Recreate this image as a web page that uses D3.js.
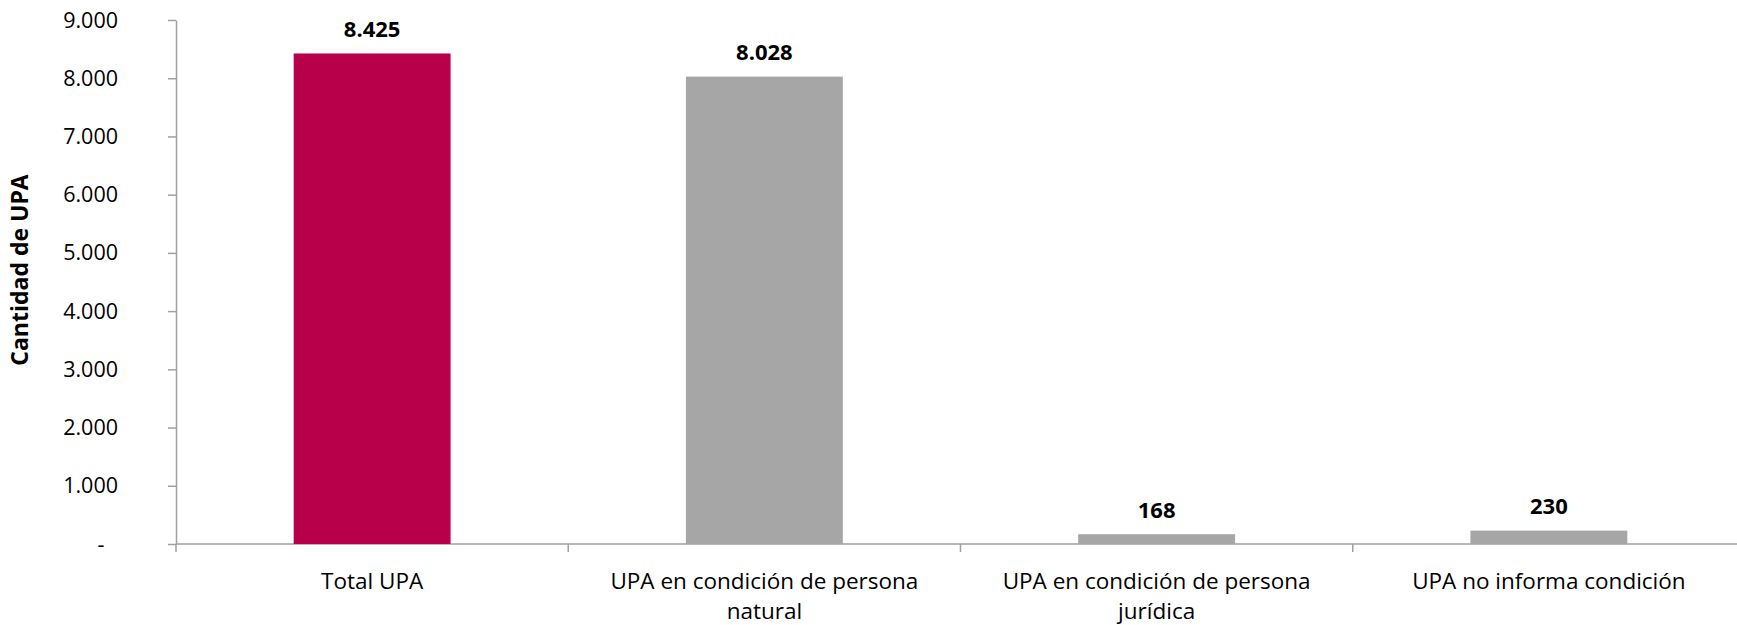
<!DOCTYPE html>
<html>
<head>
<meta charset="utf-8">
<script src="https://cdn.jsdelivr.net/npm/d3@7"></script>
<style>
  body { margin: 0; background: #fff; }
  svg { display: block; font-family: 'Open Sans', sans-serif; }
</style>
</head>
<body>
<div id="chart"></div>
<script>
const categories = [
  'Total UPA',
  'UPA en condición de persona natural',
  'UPA en condición de persona jurídica',
  'UPA no informa condición'
];
const labelLines = [
  ['Total UPA'],
  ['UPA en condición de persona', 'natural'],
  ['UPA en condición de persona', 'jurídica'],
  ['UPA no informa condición']
];
const values = [8425, 8028, 168, 230];
const yTicks = [0, 1000, 2000, 3000, 4000, 5000, 6000, 7000, 8000, 9000];

const width = 1737;
const height = 625;
const margin = { top: 20, right: -8, bottom: 81, left: 176 };

const data = categories.map((name, i) => ({ name, value: values[i], lines: labelLines[i] }));

const svg = d3.select('#chart').append('svg')
  .attr('width', width)
  .attr('height', height);

const xScale = d3.scaleBand()
  .domain(categories)
  .range([margin.left, width - margin.right])
  .paddingInner(0.6)
  .paddingOuter(0.3);

const yScale = d3.scaleLinear()
  .domain([0, 9000])
  .range([height - margin.bottom, margin.top]);

const fmt = d => d === 0 ? '-' : d3.format(',')(d).replace(/,/g, '.');
const axisColor = '#a0a0a0';

// y axis
const yAxis = d3.axisLeft(yScale)
  .tickValues(yTicks)
  .tickSize(8)
  .tickSizeOuter(0)
  .tickFormat(() => '');

svg.append('g')
  .attr('transform', `translate(${margin.left},0)`)
  .call(yAxis)
  .call(g => g.selectAll('path, line').attr('stroke', axisColor).attr('stroke-width', 1.5));

svg.append('g')
  .selectAll('text')
  .data(yTicks)
  .join('text')
  .attr('x', d => d === 0 ? 101 : 118)
  .attr('y', d => yScale(d))
  .attr('dy', '0.35em')
  .attr('text-anchor', d => d === 0 ? 'middle' : 'end')
  .attr('font-size', 21.5)
  .attr('fill', '#000')
  .text(fmt);

// x axis line and separators
const step = xScale.step();
const x0 = margin.left;
const baseY = yScale(0);
svg.append('line')
  .attr('x1', x0).attr('x2', width)
  .attr('y1', baseY).attr('y2', baseY)
  .attr('stroke', axisColor).attr('stroke-width', 1.5);

svg.append('g')
  .selectAll('line')
  .data(d3.range(categories.length + 1))
  .join('line')
  .attr('x1', i => x0 + i * step)
  .attr('x2', i => x0 + i * step)
  .attr('y1', baseY)
  .attr('y2', baseY + 8)
  .attr('stroke', axisColor).attr('stroke-width', 1.5);

// bars
svg.append('g')
  .selectAll('rect')
  .data(data)
  .join('rect')
  .attr('x', d => xScale(d.name))
  .attr('y', d => yScale(d.value))
  .attr('width', xScale.bandwidth())
  .attr('height', d => yScale(0) - yScale(d.value))
  .attr('fill', (d, i) => i === 0 ? '#b8004a' : '#a6a6a6');

// value labels
svg.append('g')
  .selectAll('text')
  .data(data)
  .join('text')
  .attr('x', d => xScale(d.name) + xScale.bandwidth() / 2)
  .attr('y', d => yScale(d.value) - 24)
  .attr('dy', '0.35em')
  .attr('text-anchor', 'middle')
  .attr('font-size', 22)
  .attr('font-weight', 'bold')
  .attr('fill', '#000')
  .text(d => fmt(d.value));

// category labels
const catLabels = svg.append('g')
  .selectAll('text')
  .data(data)
  .join('text')
  .attr('x', d => xScale(d.name) + xScale.bandwidth() / 2)
  .attr('y', baseY + 45)
  .attr('text-anchor', 'middle')
  .attr('font-size', 22.5)
  .attr('fill', '#000');

catLabels.selectAll('tspan')
  .data(d => d.lines.map(l => ({ l, x: xScale(d.name) + xScale.bandwidth() / 2 })))
  .join('tspan')
  .attr('x', d => d.x)
  .attr('dy', (d, i) => i === 0 ? 0 : 30)
  .text(d => d.l);

// y axis title
svg.append('text')
  .attr('transform', 'translate(28,270) rotate(-90)')
  .attr('text-anchor', 'middle')
  .attr('font-size', 23)
  .attr('font-weight', 'bold')
  .attr('fill', '#000')
  .text('Cantidad de UPA');
</script>
</body>
</html>
